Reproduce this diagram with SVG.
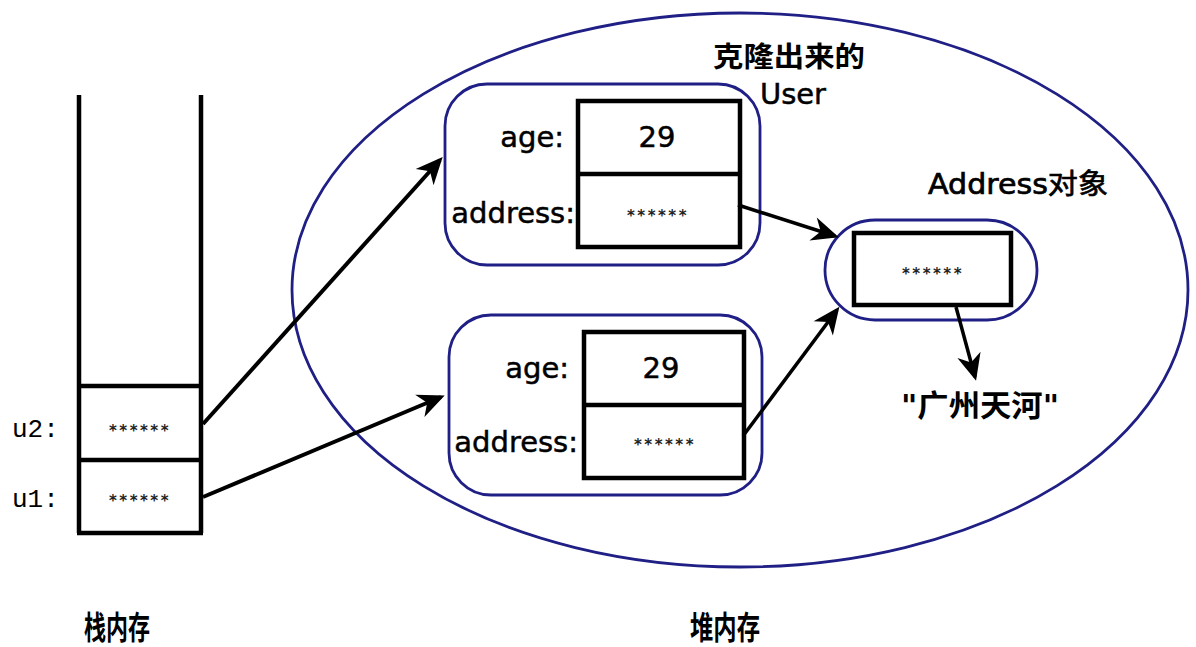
<svg xmlns="http://www.w3.org/2000/svg" width="1196" height="647" viewBox="0 0 1196 647">
<style>
.blue{fill:none;stroke:#1f1f85;stroke-width:2.8}
.box{fill:#fff;stroke:#000;stroke-width:4.5}
.ln{stroke:#000;stroke-width:4.5;fill:none}
.lbl{font-family:"DejaVu Sans",Verdana,sans-serif;font-size:29px;fill:#000;stroke:#000;stroke-width:0.5}
.star{font-family:"DejaVu Sans",sans-serif;font-size:15px;font-weight:bold;letter-spacing:2.5px;fill:#222;text-anchor:middle}
.cjk{font-family:"DejaVu Sans","Noto Sans CJK SC",sans-serif;fill:#000}
.b{font-weight:bold}
.mono{font-family:"Liberation Mono","DejaVu Sans Mono",monospace;font-size:26px;fill:#000}
.arr{stroke:#000;stroke-width:4;fill:none;marker-end:url(#ah)}
.arr3{stroke:#000;stroke-width:3.5;fill:none;marker-end:url(#ah)}
</style>
<defs>
<marker id="ah" viewBox="-30 -14 36 28" refX="0" refY="0" markerWidth="36" markerHeight="28" markerUnits="userSpaceOnUse" orient="auto" overflow="visible">
<path d="M-23,-12 L4,0 L-23,12 L-15,0 z" fill="#000"/>
</marker>
</defs>
<rect width="1196" height="647" fill="#fff"/>

<g id="stack">
<path class="ln" d="M79,95 V533 M201,95 V533 M77,386 H203 M77,460 H203 M77,533 H203"/>
<text class="mono" x="12" y="437">u2:</text>
<text class="mono" x="12" y="507">u1:</text>
<text class="star" x="140" y="436">******</text>
<text class="star" x="140" y="506">******</text>
<text class="cjk b" x="84" y="639" font-size="32" textLength="66" lengthAdjust="spacingAndGlyphs">栈内存</text>
</g>

<g id="heap">
<ellipse class="blue" cx="740" cy="290" rx="448" ry="277"/>
<text class="cjk b" x="690" y="639" font-size="32" textLength="70" lengthAdjust="spacingAndGlyphs">堆内存</text>
</g>

<g id="user1">
<rect class="blue" x="445" y="84" width="315" height="181" rx="42"/>
<rect class="box" x="578" y="101" width="162" height="146"/>
<line class="ln" x1="578" y1="174" x2="740" y2="174"/>
<text class="lbl" x="564" y="147" text-anchor="end">age:</text>
<text class="lbl" x="575" y="223" text-anchor="end">address:</text>
<text class="lbl" x="657" y="147" text-anchor="middle">29</text>
<text class="star" x="658" y="221">******</text>
<text class="cjk b" x="789" y="67" font-size="28" text-anchor="middle" textLength="152" lengthAdjust="spacingAndGlyphs">克隆出来的</text>
<text class="lbl" x="793" y="104" text-anchor="middle">User</text>
</g>

<g id="user2">
<rect class="blue" x="449" y="315" width="313" height="180" rx="42"/>
<rect class="box" x="584" y="332" width="160" height="146"/>
<line class="ln" x1="584" y1="405" x2="744" y2="405"/>
<text class="lbl" x="569" y="378" text-anchor="end">age:</text>
<text class="lbl" x="578" y="452" text-anchor="end">address:</text>
<text class="lbl" x="661" y="378" text-anchor="middle">29</text>
<text class="star" x="665" y="450">******</text>
</g>

<g id="address">
<rect class="blue" x="825" y="220" width="212" height="100" rx="50"/>
<rect class="box" x="854" y="233" width="157" height="72"/>
<text class="star" x="933" y="279">******</text>
<text class="cjk" x="1018" y="194" font-size="28" text-anchor="middle" stroke="#000" stroke-width="0.7" textLength="180" lengthAdjust="spacingAndGlyphs">Address对象</text>
</g>

<g id="string">
<text class="cjk b" x="980" y="416" font-size="30" text-anchor="middle" textLength="158" lengthAdjust="spacingAndGlyphs">"广州天河"</text>
</g>

<g id="connectors">
<line class="arr" x1="203" y1="424" x2="440" y2="160"/>
<line class="arr" x1="203" y1="497" x2="441" y2="397"/>
<line class="arr3" x1="738" y1="205" x2="835" y2="236"/>
<line class="arr3" x1="743" y1="436" x2="837" y2="310"/>
<line class="arr3" x1="956" y1="307" x2="975" y2="377"/>
</g>
</svg>
